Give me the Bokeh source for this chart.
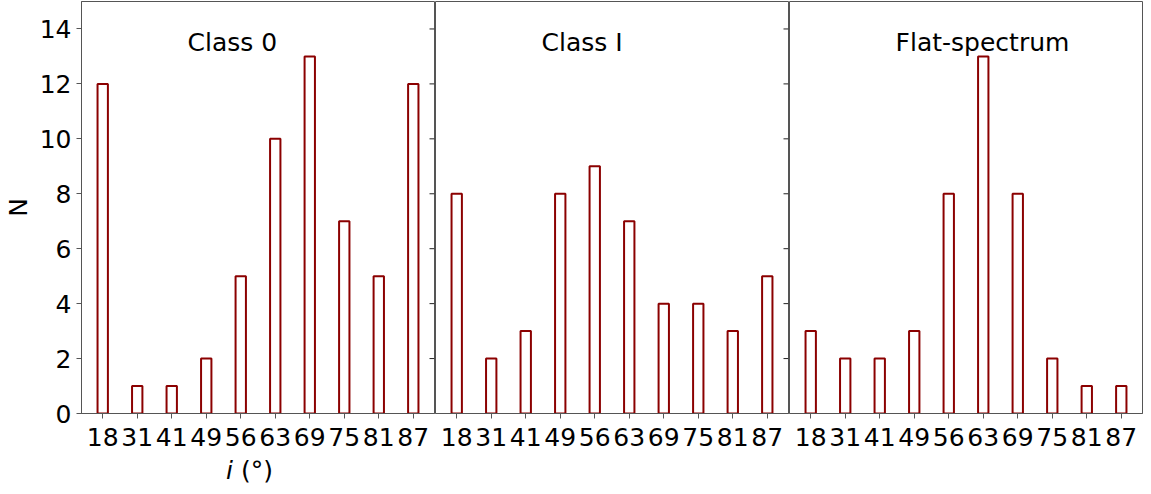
from math import pi
from bokeh.plotting import figure
from bokeh.models import Range1d, FixedTicker, Label, ColumnDataSource, Div
from bokeh.layouts import row, column
from bokeh.embed import file_html
from bokeh.resources import INLINE

# ---- data ----
angles = ["18", "31", "41", "49", "56", "63", "69", "75", "81", "87"]
class0 = [12, 1, 1, 2, 5, 10, 13, 7, 5, 12]
class1 = [8, 2, 3, 8, 9, 7, 4, 4, 3, 5]
flat = [3, 2, 2, 3, 8, 13, 8, 2, 1, 1]
panel_titles = ["Class 0", "Class I", "Flat-spectrum"]
y_ticks = [0, 2, 4, 6, 8, 10, 12, 14]
y_label = "N"
x_label_html = "<i>i</i> (°)"

FONT = "DejaVu Sans"
BAR = "#8b0000"
EDGE = "#555555"
FW, FH = 353, 412
FS = "25px"
LEFT = 73

positions = list(range(len(angles)))
bar_w = 0.3
pad = (len(angles) - 1 + bar_w) * 0.05 + bar_w / 2


def make(i, counts, title):
    first = i == 0
    last = i == 2
    p = figure(x_range=Range1d(positions[0] - pad, positions[-1] + pad),
               y_range=Range1d(0, 15), frame_width=FW, frame_height=FH,
               output_backend="svg", toolbar_location=None, tools="",
               min_border_left=LEFT if first else 0, min_border_right=1,
               min_border_top=1, min_border_bottom=45,
               y_axis_location="left" if first else None)
    p.outline_line_color = EDGE
    p.outline_line_width = 1
    p.xgrid.visible = False
    p.ygrid.visible = False
    p.background_fill_color = "white"
    p.border_fill_color = "white"

    src = ColumnDataSource(dict(x=positions, n=counts))
    p.vbar(x="x", top="n", width=bar_w, source=src, fill_color=None,
           line_color=BAR, line_width=2)

    xa = p.xaxis[0]
    xa.ticker = FixedTicker(ticks=positions)
    xa.major_label_overrides = {k: a for k, a in zip(positions, angles)}
    xa.major_label_text_font_size = FS
    xa.major_label_text_font = FONT
    xa.major_label_text_color = "black"
    xa.major_tick_out = 5
    xa.major_tick_in = 0
    xa.minor_tick_out = 0
    xa.minor_tick_in = 0
    xa.major_label_standoff = 9
    xa.axis_line_color = EDGE
    xa.major_tick_line_color = EDGE

    if first:
        ya = p.yaxis[0]
        ya.ticker = FixedTicker(ticks=y_ticks)
        ya.major_label_text_font_size = FS
        ya.major_label_text_font = FONT
        ya.major_label_text_color = "black"
        ya.major_tick_out = 5
        ya.major_tick_in = 0
        ya.minor_tick_out = 0
        ya.minor_tick_in = 0
        ya.major_label_standoff = 5
        ya.axis_line_color = EDGE
        ya.major_tick_line_color = EDGE
        ya.axis_label = y_label
        ya.axis_label_text_font = FONT
        ya.axis_label_text_font_size = FS
        ya.axis_label_text_font_style = "normal"
        ya.axis_label_text_color = "black"
        ya.axis_label_standoff = 4

    if not last:
        # ticks of the shared y axis on the panel boundary
        p.ray(x=[p.x_range.end] * len(y_ticks), y=y_ticks, length=5,
              length_units="screen", angle=pi, line_color="#222222",
              line_width=1)

    p.add_layout(Label(x=2.46, y=13.5, text=title, text_font=FONT,
                       text_font_size=FS, text_color="black",
                       text_baseline="alphabetic", text_align="left"))
    return p


panels = [make(i, c, t) for i, (c, t) in
          enumerate(zip([class0, class1, flat], panel_titles))]

xlabel = Div(text=x_label_html, width=2 * (LEFT + FW // 2) + 1, height=26,
             margin=(0, 0, 0, 0),
             styles={"font-family": FONT, "font-size": FS, "color": "black",
                     "text-align": "center", "line-height": "26px"})

layout = column(row(*panels, spacing=0), xlabel, spacing=0)

open("out.html", "w").write(file_html(layout, INLINE))
